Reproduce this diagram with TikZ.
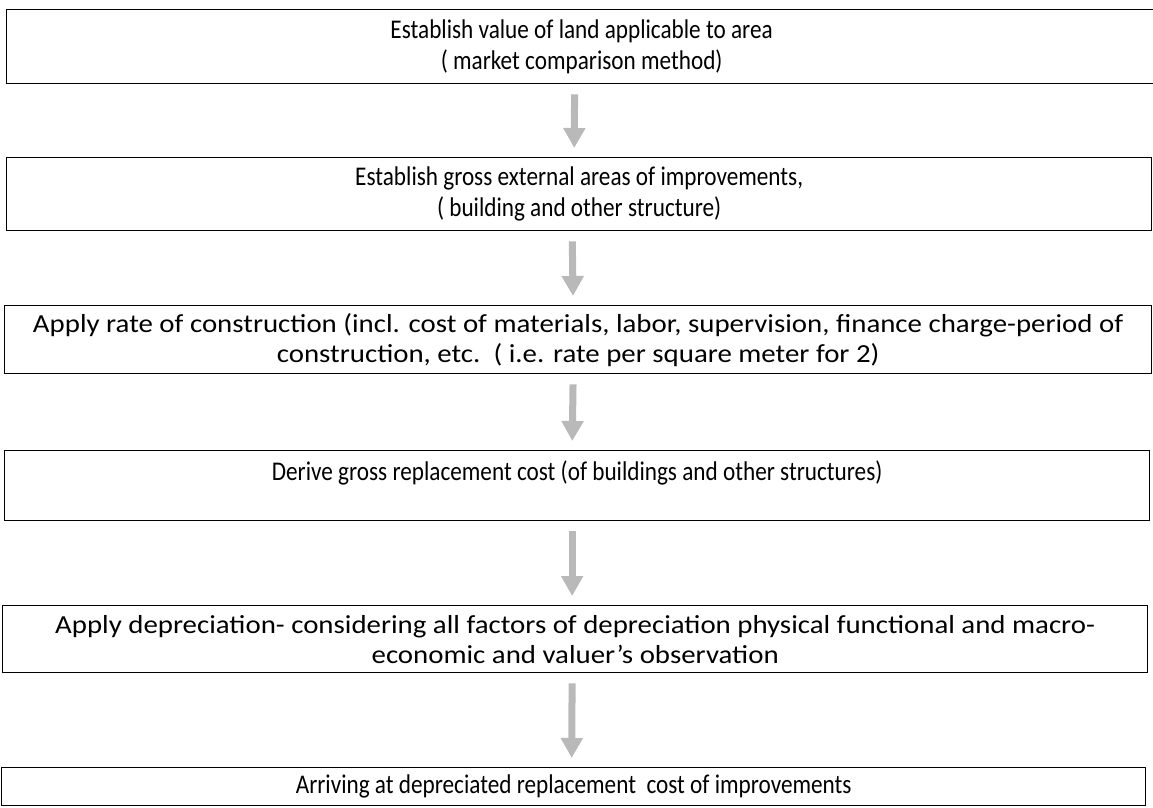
\documentclass[tikz,border=0pt]{standalone}
\usepackage{fontspec}
\setmainfont{Carlito}
\newfontfamily\narrowfont[FakeStretch=0.86]{Carlito}
\newfontfamily\widefont[FakeStretch=1.11]{Carlito}
\usetikzlibrary{arrows.meta}
\begin{document}
\begin{tikzpicture}[x=1pt,y=1pt,
  box/.style={draw=black, line width=1.3pt, anchor=north west, inner sep=0pt, align=center, font=\fontsize{27}{31}\narrowfont},
  widebox/.style={box, font=\fontsize{26}{30}\widefont},
  flow/.style={draw=gray!55, line width=7pt, -{Triangle[width=21pt,length=20pt]}, shorten <=10pt, shorten >=9pt}]
\useasboundingbox (0,0) rectangle (1153,-807);
\node[box, minimum width=1150pt, minimum height=74pt] (b1) at (6,-9) {Establish value of land applicable to area\\( market comparison method)};
\node[box, minimum width=1145pt, minimum height=73pt] (b2) at (6,-157) {Establish gross external areas of improvements,\\( building and other structure)};
\node[widebox, minimum width=1147pt, minimum height=68pt] (b3) at (4,-305) {Apply rate of construction (incl. cost of materials, labor, supervision, finance charge-period of\\construction, etc.\ \ ( i.e. rate per square meter for 2)};
\node[box, minimum width=1145pt, minimum height=70pt] (b4) at (4,-450) {Derive gross replacement cost (of buildings and other structures)\\\mbox{}};
\node[widebox, minimum width=1145pt, minimum height=67pt] (b5) at (2,-605) {Apply depreciation- considering all factors of depreciation physical functional and macro-\\economic and valuer’s observation};
\node[box, minimum width=1144pt, minimum height=38pt] (b6) at (1,-767) {Arriving at depreciated replacement\ \ cost of improvements};
\draw[flow] ([xshift=-7pt]b1.south) -- ([xshift=-5pt]b2.north);
\draw[flow] ([xshift=-7pt]b2.south) -- ([xshift=-5pt]b3.north);
\draw[flow] ([xshift=-5pt]b3.south) -- ([xshift=-5pt]b4.north);
\draw[flow] ([xshift=-5pt]b4.south) -- ([xshift=-3pt]b5.north);
\draw[flow] ([xshift=-3pt]b5.south) -- ([xshift=-2pt]b6.north);
\end{tikzpicture}
\end{document}
